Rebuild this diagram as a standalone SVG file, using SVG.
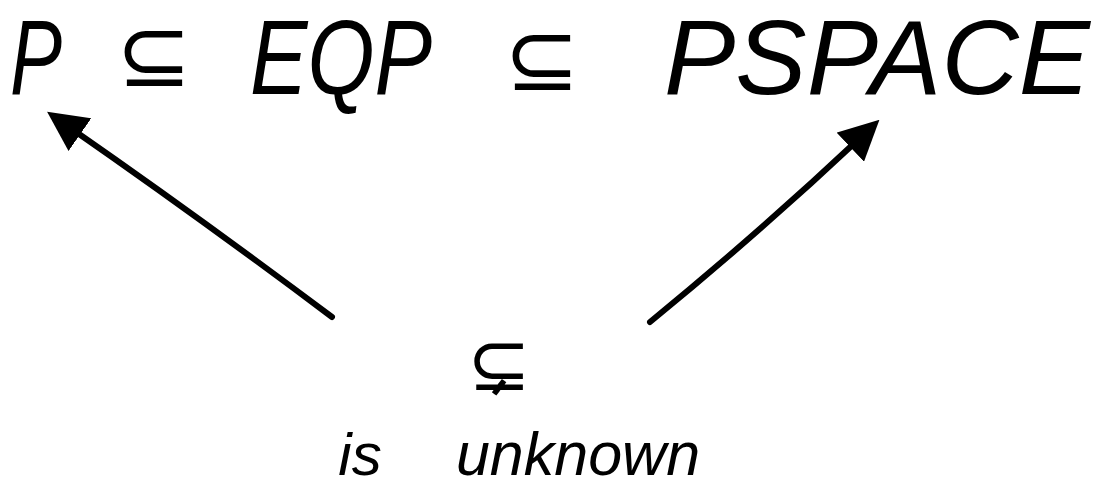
<svg xmlns="http://www.w3.org/2000/svg" width="1104" height="486" viewBox="0 0 1104 486">
<style>
.t{font-family:"Liberation Sans","DejaVu Sans",sans-serif;fill:#000;font-style:italic}
.sym{font-family:"DejaVu Sans",sans-serif;fill:#000}
.arr{fill:none;stroke:#000;stroke-width:6;stroke-linecap:round}
</style>
<defs>
<marker id="head" markerUnits="userSpaceOnUse" markerWidth="40" markerHeight="40" viewBox="0 0 36 36" refX="12" refY="18" orient="auto">
<path d="M0,0 L36,18 L0,36 z" fill="#000"/>
</marker>
</defs>
<rect width="1104" height="486" fill="#fff"/>
<g id="node-P"><text class="t" x="10" y="94" font-size="106" textLength="52" lengthAdjust="spacingAndGlyphs">P</text></g>
<g id="sub1"><text class="sym" x="154" y="86" font-size="90" text-anchor="middle">⊆</text></g>
<g id="node-EQP"><text class="t" x="250" y="94" font-size="106" textLength="182" lengthAdjust="spacingAndGlyphs">EQP</text></g>
<g id="sub2"><text class="sym" x="542" y="90" font-size="90" text-anchor="middle">⊆</text></g>
<g id="node-PSPACE"><text class="t" x="664" y="94" font-size="106" textLength="426" lengthAdjust="spacingAndGlyphs">PSPACE</text></g>
<g id="node-unknown">
<text class="sym" x="499" y="390" font-size="76" text-anchor="middle">⊊</text>
<text class="t" x="360" y="475" font-size="60" text-anchor="middle">is</text>
<text class="t" x="578" y="475" font-size="61" text-anchor="middle">unknown</text>
</g>
<g id="connectors">
<path class="arr" d="M332,317 Q200,218 69,127" marker-end="url(#head)"/>
<path class="arr" d="M650,322 Q760,232 860,138" marker-end="url(#head)"/>
</g>
</svg>
